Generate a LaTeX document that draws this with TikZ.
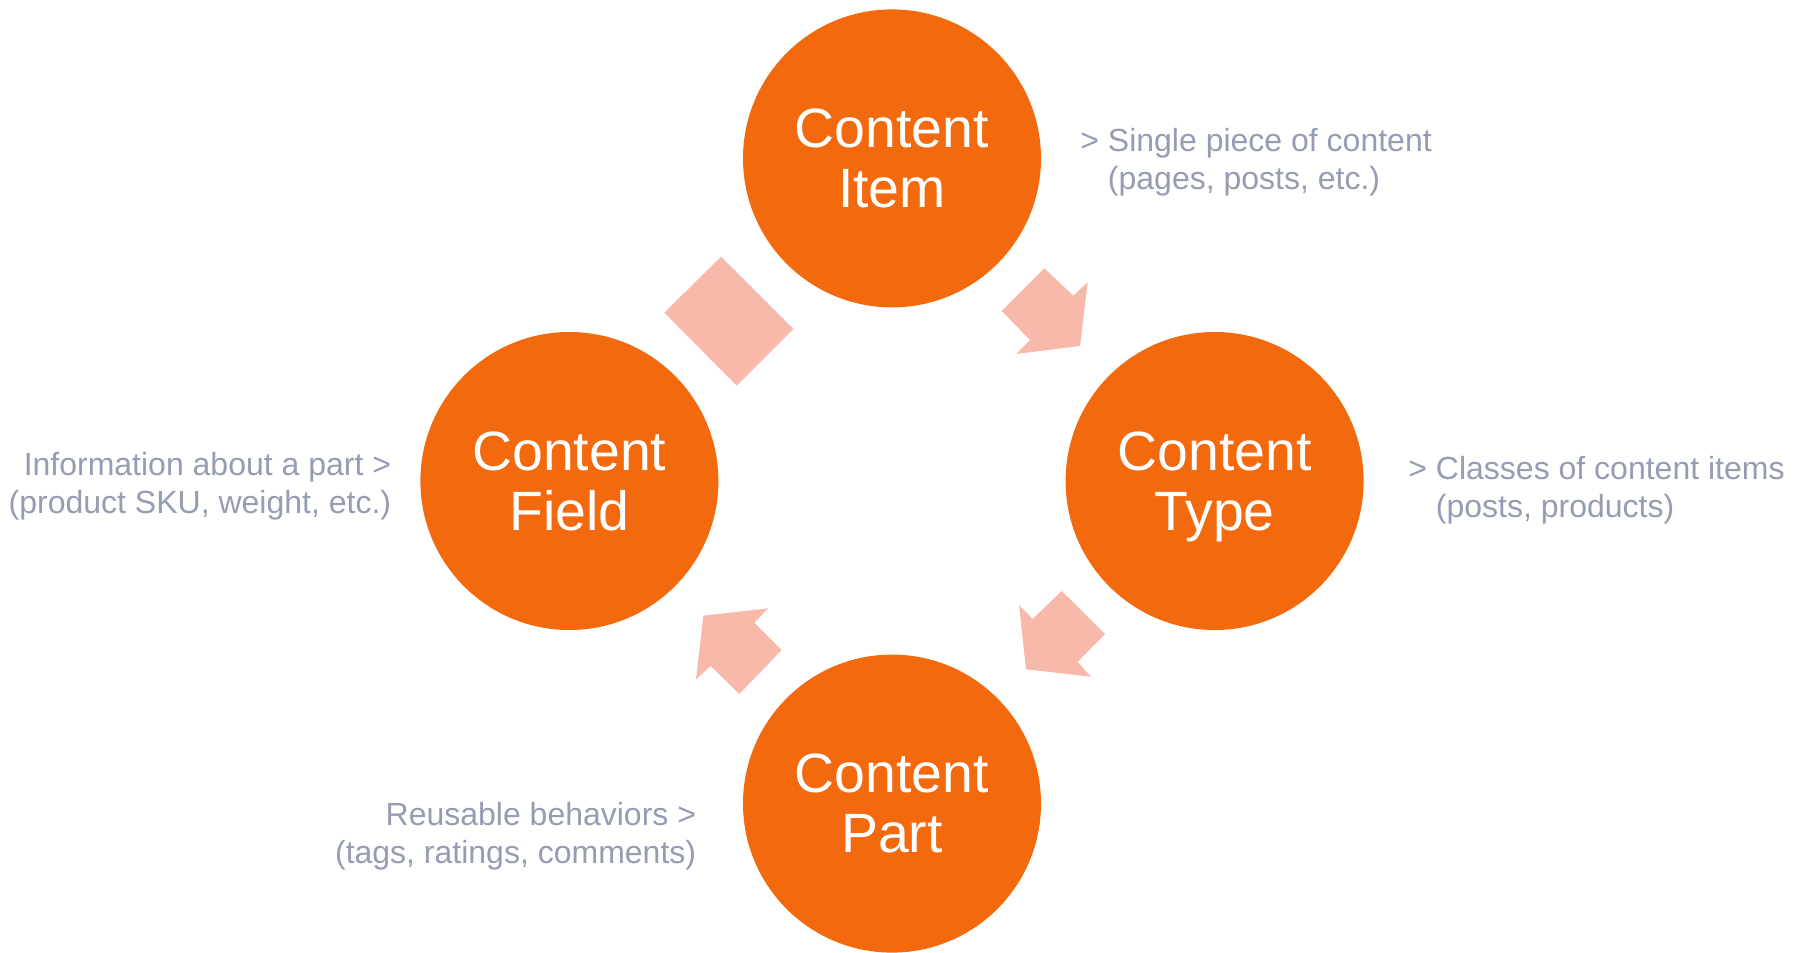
\documentclass[tikz,border=0pt]{standalone}
\usepackage{fontspec}
\setmainfont{Liberation Sans}
\definecolor{cOrange}{RGB}{243,105,14}
\definecolor{cArrow}{RGB}{248,185,170}
\definecolor{cGray}{RGB}{150,156,178}
\tikzset{
  bigcircle/.style={circle, fill=cOrange, inner sep=0pt, minimum size=149pt,
    text=white, align=center, text depth=0pt, font=\fontsize{27.7}{30}\selectfont},
  sidetext/.style={text=cGray, inner sep=0pt, font=\fontsize{16}{19}\selectfont},
  blockarrow/.style={fill=cArrow}
}
\begin{document}
\begin{tikzpicture}[x=0.5pt,y=-0.5pt]
\useasboundingbox (0,0) rectangle (1800,953);
% circles
\node[bigcircle] (item)  at (892,158.4) {Content\\Item};
\node[bigcircle] (type)  at (1214.6,481) {Content\\Type};
\node[bigcircle] (field) at (569.4,481) {Content\\Field};
\node[bigcircle] (part)  at (892,803.6) {Content\\Part};
% block arrows
\fill[blockarrow] (721,256.7) -- (793.3,329) -- (736.7,385.7) -- (664.3,312.7) -- cycle;
\fill[blockarrow] (1044.3,268.3) -- (1073.3,295.7) -- (1087.7,282.3) -- (1080,346)
  -- (1016,354) -- (1030,340) -- (1001.7,311) -- cycle;
\fill[blockarrow] (1061.7,591) -- (1105,634) -- (1077.7,661.7) -- (1090.7,676.7)
  -- (1026,669.3) -- (1019,605) -- (1032.7,619) -- cycle;
\fill[blockarrow] (768.3,608.3) -- (703.3,615.7) -- (696,679.3) -- (710.7,666)
  -- (739.3,694) -- (781.7,650) -- (754.3,622.7) -- cycle;
% side texts
\node[sidetext, anchor=west, align=left] (titem) at (1080,162)
  {> Single piece of content\\\hphantom{>\ }(pages, posts, etc.)};
\node[sidetext, anchor=west, align=left] (ttype) at (1408,490.5)
  {> Classes of content items\\\hphantom{>\ }(posts, products)};
\node[sidetext, anchor=east, align=right] (tfield) at (391.5,486.5)
  {Information about a part >\\(product SKU, weight, etc.)};
\node[sidetext, anchor=east, align=right] (tpart) at (696.5,836.5)
  {Reusable behaviors >\\(tags, ratings, comments)};
\end{tikzpicture}
\end{document}
